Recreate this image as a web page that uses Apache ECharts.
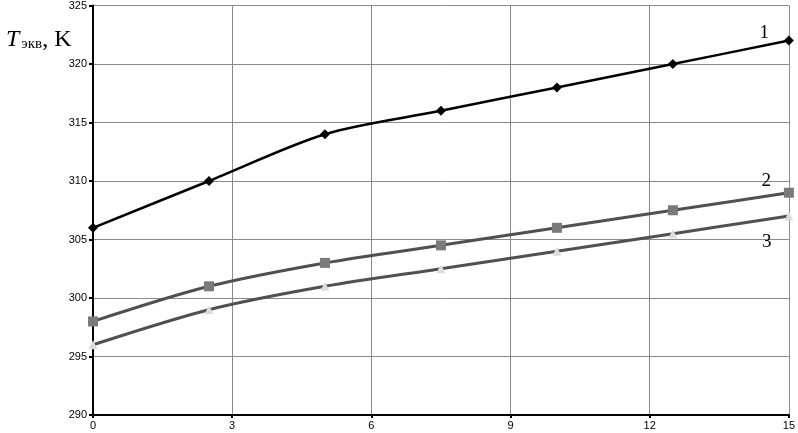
<!DOCTYPE html>
<html>
<head>
<meta charset="utf-8">
<script src="https://cdn.jsdelivr.net/npm/echarts@6/dist/echarts.min.js"></script>
<style>html,body{margin:0;padding:0;background:#fff}#c{width:798px;height:433px}</style>
</head>
<body>
<div id="c"></div>
<script>
var xValues = [0, 2.5, 5, 7.5, 10, 12.5, 15];
var series1 = [306, 310, 314, 316, 318, 320, 322];
var series2 = [298, 301, 303, 304.5, 306, 307.5, 309];
var series3 = [296, 299, 301, 302.5, 304, 305.5, 307];
var seriesNames = ['1', '2', '3'];

function pairs(ys){ return xValues.map(function(x,i){ return [x, ys[i]]; }); }

var chart = echarts.init(document.getElementById('c'));
function endLabel(name, offset){
  return {
    show: true,
    formatter: function(p){ return p.dataIndex === xValues.length - 1 ? name : ''; },
    position: 'left',
    offset: offset,
    fontFamily: 'Liberation Serif',
    fontSize: 19,
    color: '#000'
  };
}
chart.setOption({
  animation: false,
  grid: {left: 93, right: 5, top: 4, bottom: 18, containLabel: false},
  title: {
    left: 1, top: 21,
    text: '{i|T}{s|экв}{n|, K}',
    textStyle: {
      fontWeight: 'normal',
      rich: {
        i: {fontFamily: 'Liberation Serif', fontStyle: 'italic', fontWeight: 'normal', fontSize: 24, color: '#000', verticalAlign: 'bottom', lineHeight: 26},
        s: {fontFamily: 'Liberation Serif', fontWeight: 'normal', fontSize: 15, color: '#000', verticalAlign: 'bottom', lineHeight: 21, padding: [0,0,0,2]},
        n: {fontFamily: 'Liberation Serif', fontWeight: 'normal', fontSize: 24, color: '#000', verticalAlign: 'bottom', lineHeight: 26}
      }
    }
  },
  xAxis: {
    type: 'value', min: 0, max: 15, interval: 3,
    axisLine: {show: true, lineStyle: {color: '#000', width: 2}},
    axisTick: {show: true, length: 3, lineStyle: {color: '#000', width: 2}},
    axisLabel: {color: '#000', fontFamily: 'Liberation Sans', fontSize: 11, margin: 5},
    splitLine: {show: true, lineStyle: {color: '#8a8a8a', width: 1}}
  },
  yAxis: {
    type: 'value', min: 290, max: 325, interval: 5,
    axisLine: {show: true, onZero: false, lineStyle: {color: '#000', width: 2}},
    axisTick: {show: true, length: 4, lineStyle: {color: '#000', width: 2}},
    axisLabel: {color: '#000', fontFamily: 'Liberation Sans', fontSize: 11, margin: 6},
    splitLine: {show: true, lineStyle: {color: '#8a8a8a', width: 1}}
  },
  series: [
    {
      name: seriesNames[0], type: 'line', smooth: 0.3, data: pairs(series1),
      lineStyle: {color: '#000', width: 2.5},
      symbol: 'diamond', symbolSize: 10,
      itemStyle: {color: '#000'},
      label: endLabel(seriesNames[0], [-10, -8]),
      z: 5
    },
    {
      name: seriesNames[1], type: 'line', smooth: 0.3, data: pairs(series2),
      lineStyle: {color: '#505050', width: 3},
      symbol: 'rect', symbolSize: 10,
      itemStyle: {color: '#7a7a7a'},
      label: endLabel(seriesNames[1], [-8, -12]),
      z: 4
    },
    {
      name: seriesNames[2], type: 'line', smooth: 0.3, data: pairs(series3),
      lineStyle: {color: '#505050', width: 3},
      symbol: 'triangle', symbolSize: 9,
      itemStyle: {color: '#dcdcdc'},
      label: endLabel(seriesNames[2], [-8, 26]),
      z: 3
    }
  ]
});
</script>
</body>
</html>
